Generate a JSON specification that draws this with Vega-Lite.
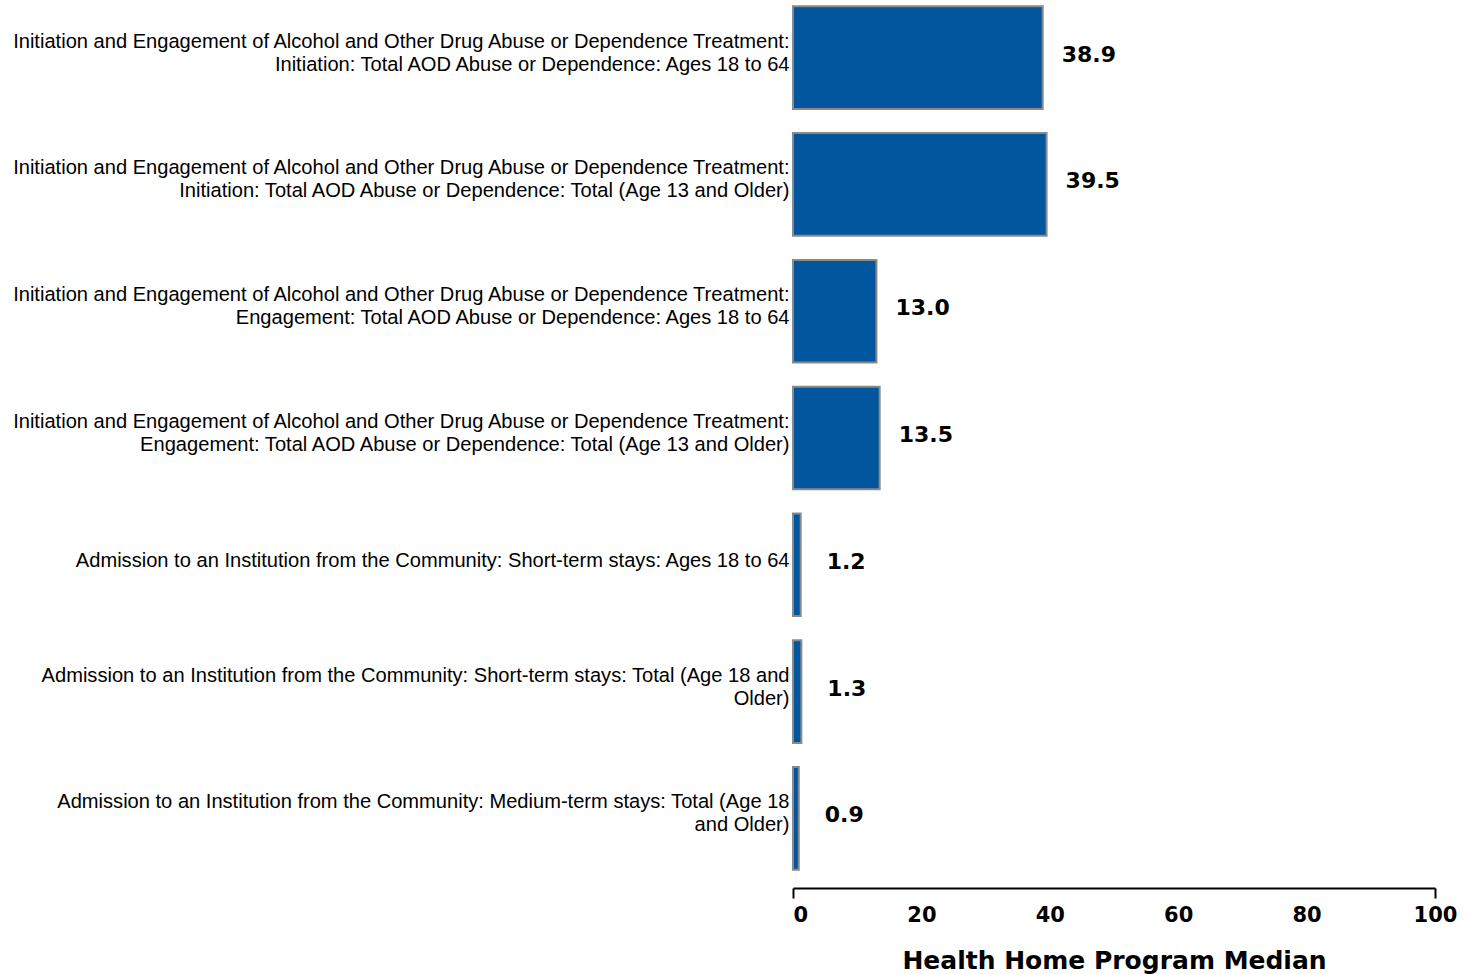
{
  "$schema": "https://vega.github.io/schema/vega-lite/v6.json",
  "width": 642,
  "height": 876,
  "autosize": "none",
  "padding": {"left": 793, "top": 0, "right": 29, "bottom": 98},
  "background": "white",
  "config": {"view": {"stroke": null}},
  "data": {
    "values": [
      {"category": "Initiation and Engagement of Alcohol and Other Drug Abuse or Dependence Treatment:|Initiation: Total AOD Abuse or Dependence: Ages 18 to 64", "value": 38.9},
      {"category": "Initiation and Engagement of Alcohol and Other Drug Abuse or Dependence Treatment:|Initiation: Total AOD Abuse or Dependence: Total (Age 13 and Older)", "value": 39.5},
      {"category": "Initiation and Engagement of Alcohol and Other Drug Abuse or Dependence Treatment:|Engagement: Total AOD Abuse or Dependence: Ages 18 to 64", "value": 13.0},
      {"category": "Initiation and Engagement of Alcohol and Other Drug Abuse or Dependence Treatment:|Engagement: Total AOD Abuse or Dependence: Total (Age 13 and Older)", "value": 13.5},
      {"category": "Admission to an Institution from the Community: Short-term stays: Ages 18 to 64", "value": 1.2},
      {"category": "Admission to an Institution from the Community: Short-term stays: Total (Age 18 and|Older)", "value": 1.3},
      {"category": "Admission to an Institution from the Community: Medium-term stays: Total (Age 18|and Older)", "value": 0.9}
    ]
  },
  "encoding": {
    "y": {
      "field": "category",
      "type": "nominal",
      "sort": null,
      "scale": {"paddingInner": 0.19, "paddingOuter": 0.05},
      "axis": {
        "title": null,
        "domain": false,
        "ticks": false,
        "labelPadding": 4,
        "labelLimit": 0,
        "labelFont": "Liberation Sans",
        "labelFontSize": 20.1,
        "labelColor": "black",
        "labelLineHeight": 23,
        "labelOffset": {"condition": {"test": "indexof(datum.value, '|') >= 0", "value": -16}, "value": -4},
        "labelExpr": "split(datum.label, '|')"
      }
    },
    "x": {
      "field": "value",
      "type": "quantitative",
      "scale": {"domain": [0, 100], "nice": false},
      "axis": {
        "title": "Health Home Program Median",
        "values": [0, 20, 40, 60, 80, 100],
        "offset": 12,
        "grid": false,
        "domainColor": "black",
        "domainWidth": 2,
        "tickColor": "black",
        "tickWidth": 2,
        "tickSize": 10,
        "tickOpacity": {"condition": {"test": "datum.value === 0 || datum.value === 100", "value": 1}, "value": 0},
        "labelFont": "DejaVu Sans",
        "labelFontWeight": "bold",
        "labelFontSize": 21,
        "labelColor": "black",
        "labelPadding": 6,
        "labelFlush": false,
        "labelAlign": {"condition": {"test": "datum.value === 0", "value": "left"}, "value": "center"},
        "titleFont": "DejaVu Sans",
        "titleFontWeight": "bold",
        "titleFontSize": 25,
        "titleColor": "black",
        "titlePadding": 23
      }
    }
  },
  "layer": [
    {
      "mark": {"type": "bar", "color": "#02569e", "stroke": "#8a8a8a", "strokeWidth": 2}
    },
    {
      "mark": {"type": "text", "align": "left", "baseline": "middle", "dx": {"expr": "datum.value < 2 ? 26 : 19"}, "dy": -3, "font": "DejaVu Sans", "fontWeight": "bold", "fontSize": 22, "color": "black"},
      "encoding": {
        "text": {"field": "value", "type": "quantitative", "format": ".1f"}
      }
    }
  ]
}
